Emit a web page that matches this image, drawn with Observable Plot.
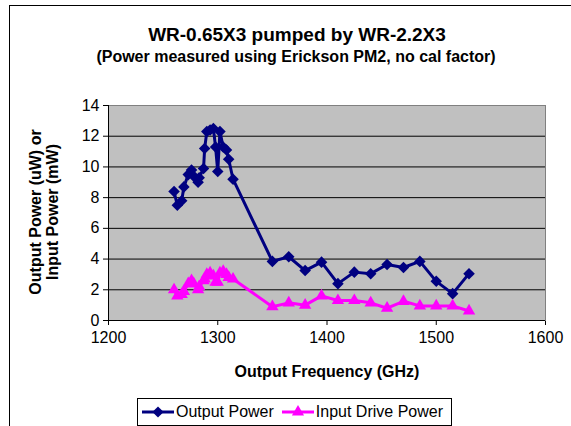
<!DOCTYPE html>
<html><head><meta charset="utf-8">
<script src="https://cdn.jsdelivr.net/npm/d3@7"></script>
<script src="https://cdn.jsdelivr.net/npm/@observablehq/plot@0.6"></script>
<style>
body{margin:0;background:#fff;}
#wrap{position:relative;width:571px;height:426px;overflow:hidden;font-family:"Liberation Sans",Arial,sans-serif;color:#000;background:#fff;}
#frame{position:absolute;left:9px;top:5px;width:800px;height:800px;border-left:1px solid #000;border-top:1px solid #000;}
.t{position:absolute;white-space:nowrap;font-weight:bold;transform:translate(-50%,-50%);}
#plot{position:absolute;left:0;top:0;}
#ylab{position:absolute;left:44px;top:212px;transform:translate(-50%,-50%) rotate(-90deg);text-align:center;font-weight:bold;font-size:16px;line-height:17px;white-space:nowrap;}
#legend{position:absolute;left:137px;top:398px;width:315px;height:28px;border:1px solid #000;box-sizing:border-box;display:flex;align-items:center;justify-content:center;font-size:16px;background:#fff;}
#legend span{margin-right:6px;}
#legend svg{display:block;}
</style>
</head><body>
<div id="wrap">
  <div id="frame"></div>
  <div id="plot"></div>
  <div class="t" style="left:297px;top:35px;font-size:19px;">WR-0.65X3 pumped by WR-2.2X3</div>
  <div class="t" style="left:296px;top:57px;font-size:16px;">(Power measured using Erickson PM2, no cal factor)</div>
  <div id="ylab">Output Power (uW) or<br>Input Power (mW)</div>
  <div class="t" style="left:327px;top:372px;font-size:16px;">Output Frequency (GHz)</div>
  <div id="legend"></div>
</div>
<script>
const freqs = [1260,1263,1267,1269,1273,1276,1278,1282,1283,1287,1288,1290,1293,1296,1298,1300,1302,1305,1308,1310,1314,
               1350,1365,1380,1395,1410,1425,1440,1455,1470,1485,1500,1515,1530];
const outputPower = [8.4,7.5,7.8,8.7,9.5,9.8,9.4,9.0,9.3,9.9,11.2,12.3,12.4,12.5,11.3,9.7,12.3,11.3,11.1,10.5,9.2,
                     3.85,4.15,3.25,3.8,2.4,3.15,3.05,3.65,3.45,3.85,2.55,1.75,3.05];
const inputPower = [2.0,1.6,1.7,1.9,2.4,2.6,2.4,2.0,2.2,2.6,2.7,3.0,3.1,2.9,2.5,2.5,3.1,3.2,3.0,2.8,2.7,
                    0.9,1.15,1.0,1.6,1.3,1.3,1.15,0.8,1.25,0.95,0.95,0.95,0.62];
const xTicks = [1200,1300,1400,1500,1600];
const yTicks = [0,2,4,6,8,10,12,14];
const seriesNames = ["Output Power","Input Drive Power"];
const seriesColors = ["#000080","#ff00ff"];

const out = freqs.map((f,i)=>({freq:f, power:outputPower[i]}));
const inp = freqs.map((f,i)=>({freq:f, power:inputPower[i]}));

const chart = Plot.plot({
  width:571, height:426,
  marginLeft:108, marginRight:26, marginTop:105, marginBottom:106,
  style:{fontFamily:'"Liberation Sans", Arial, sans-serif', fontSize:"16px", background:"transparent", color:"#000", overflow:"visible"},
  x:{domain:[1200,1600], ticks:xTicks, tickFormat:d=>String(d), tickSize:5, tickPadding:6, label:null},
  y:{domain:[0,14], ticks:yTicks, tickSize:5, tickPadding:4, label:null},
  marks:[
    Plot.frame({fill:"#c0c0c0", stroke:"#808080"}),
    Plot.ruleY(yTicks.filter(d=>d>0 && d<14), {stroke:"#000", strokeWidth:1}),
    Plot.ruleX([1200], {stroke:"#000"}),
    Plot.ruleY([0], {stroke:"#000"}),
    Plot.line(out, {x:"freq", y:"power", stroke:seriesColors[0], strokeWidth:3}),
    Plot.dot(out, {x:"freq", y:"power", symbol:"diamond2", fill:seriesColors[0], r:5.2}),
    Plot.line(inp, {x:"freq", y:"power", stroke:seriesColors[1], strokeWidth:3}),
    Plot.dot(inp, {x:"freq", y:"power", symbol:"triangle", fill:seriesColors[1], r:4.6})
  ]
});
document.getElementById("plot").appendChild(chart);

const lg = document.getElementById("legend");
const sym = [d3.symbolDiamond2, d3.symbolTriangle];
const sizes = [80, 64];
seriesNames.forEach((name,i)=>{
  const s = d3.create("svg").attr("width",36).attr("height",14);
  s.append("line").attr("x1",2).attr("x2",34).attr("y1",7).attr("y2",7).attr("stroke",seriesColors[i]).attr("stroke-width",3);
  s.append("path").attr("d", d3.symbol(sym[i], sizes[i])()).attr("transform","translate(18,7)").attr("fill",seriesColors[i]);
  lg.appendChild(s.node());
  const t = document.createElement("span"); t.textContent = name; lg.appendChild(t);
});
</script>
</body></html>
